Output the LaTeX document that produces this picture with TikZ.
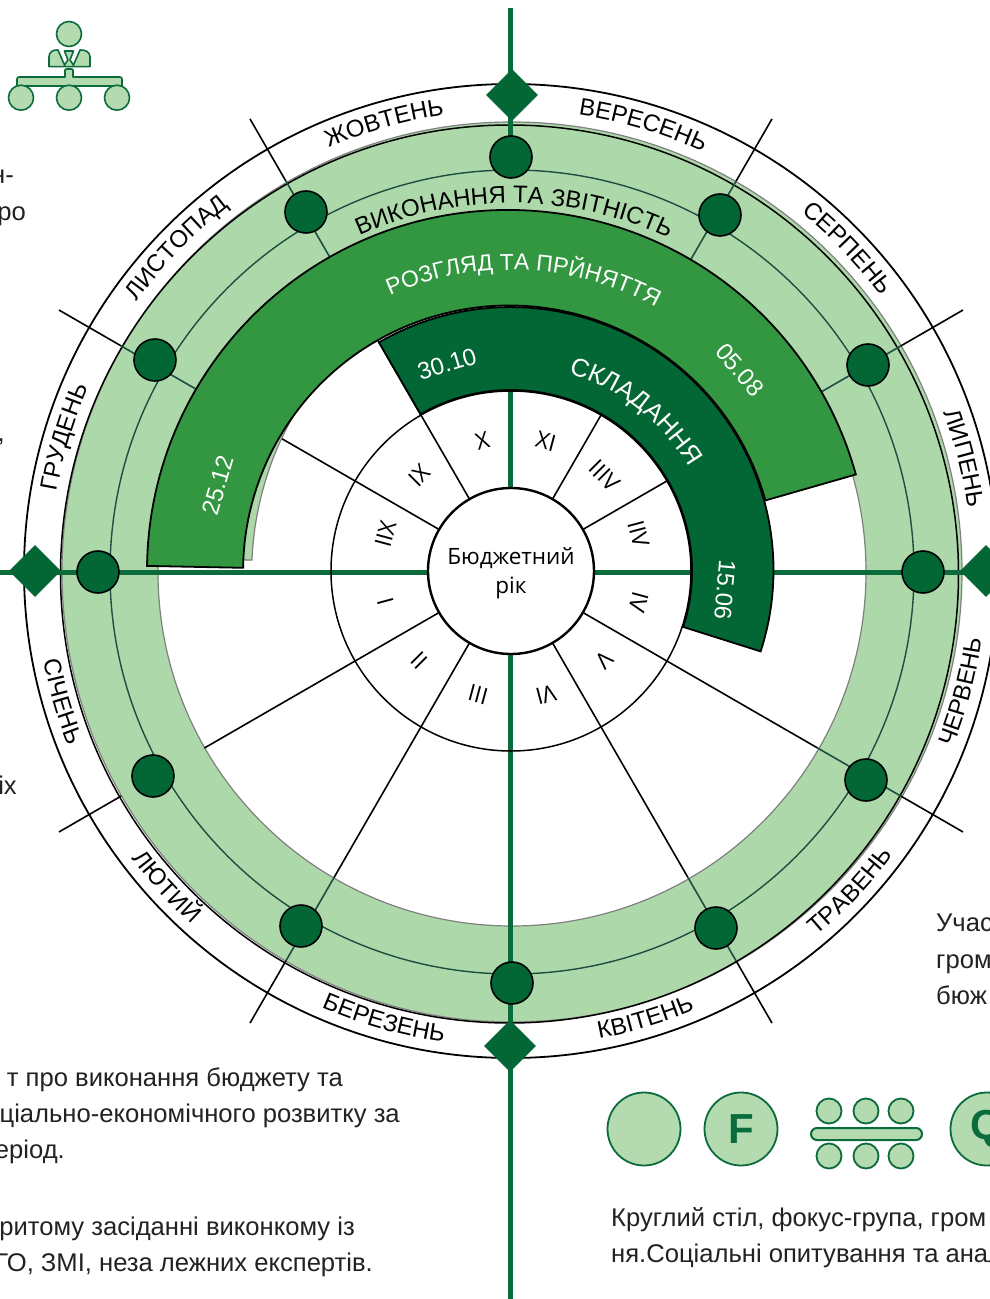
\documentclass[tikz,border=0pt]{standalone}
\usepackage{fontspec}
\setmainfont{Liberation Sans}
\newfontfamily\wheelfont{Open Sans}
\usetikzlibrary{decorations.text,shapes.geometric}
\definecolor{cdark}{HTML}{036635}
\definecolor{cmid}{HTML}{329740}
\definecolor{clight}{HTML}{ADD8A9}
\definecolor{cicon}{HTML}{B4DBAF}
\definecolor{caxis}{HTML}{0A6B3C}
\definecolor{cteal}{HTML}{1C4F40}
\definecolor{cbody}{HTML}{222222}
\newcommand\mfont{\fontsize{24}{24}\selectfont}
\newcommand\rfont{\color{black}\fontsize{24}{24}\selectfont}
\newcommand\wfont{\color{white}\fontsize{23}{23}\selectfont}
\newcommand\wbfont{\color{white}\fontsize{25.5}{25.5}\selectfont}
\newcommand\arctext[5]{\path[decorate,decoration={text along path,text={|#4|#5},text align=center}] (#1:#3) arc[start angle=#1,end angle=#2,radius=#3];}
\tikzset{
  axisline/.style={draw=caxis,line width=5pt},
  spokeline/.style={draw=black,line width=1.6pt},
  spokering/.style={draw=cteal,line width=1.6pt},
  ringdot/.style={circle,draw=black,fill=cdark,line width=1.6pt,minimum size=42pt,inner sep=0pt},
  marker/.style={diamond,draw=cdark,fill=cdark,line width=.8pt,minimum width=51pt,minimum height=51pt,inner sep=0pt,aspect=1},
  sector/.style={draw=black,line width=1.8pt,line join=miter},
  roman/.style={font=\wheelfont\fontsize{23}{23}\selectfont,inner sep=0pt},
  dateline/.style={text=white,font=\fontsize{24}{24}\selectfont,inner sep=0pt},
  bodytext/.style={text=cbody,font=\fontsize{25.6}{25.6}\selectfont,inner sep=0pt},
  icon/.style={draw=caxis,fill=cicon,line width=1.6pt},
  bigdisc/.style={circle,draw=caxis,fill=cicon,line width=1.8pt,minimum size=73pt,inner sep=0pt,text=caxis,font=\bfseries\fontsize{42}{42}\selectfont},
  smalldisc/.style={circle,draw=caxis,fill=cicon,line width=1.8pt,minimum size=25pt,inner sep=0pt},
}
\begin{document}
\begin{tikzpicture}[x=1pt,y=1pt]
\clip (-511,-728) rectangle (479,571);
\fill[white] (-511,-728) rectangle (479,571);
% month band
\draw[black,line width=1.8pt,fill=white] (0,0) circle[radius=487];
% light ring
\fill[clight,even odd rule] (1,-1) circle[radius=450] (1,-1) circle[radius=354];
\draw[gray,line width=1.2pt] (1,-1) circle[radius=450];
\draw[gray,line width=1.2pt] (1,-1) circle[radius=354];
\draw[black,line width=1.5pt] (-1.5,-3) circle[radius=449];
\draw[cteal,line width=1.4pt] (1,-1) circle[radius=402];
% spokes
\foreach \a in {30,60,120,150,210,240,300,330}{
  \coordinate (sa\a) at (\a:83);
  \coordinate (sb\a) at (\a:354);
  \coordinate (sc\a) at (\a:450);
  \coordinate (sd\a) at (\a:522);
  \draw[spokeline] (sa\a) -- (sb\a);
  \draw[spokeline] (sc\a) -- (sd\a);
}
\foreach \a in {30,60,120,150,240,300,330}{
  \draw[spokering] (sb\a) -- (sc\a);
}
% axes
\coordinate (axT) at (0,563);
\coordinate (axU) at (0,413);
\coordinate (axI) at (0,180);
\coordinate (axB) at (0,-728);
\coordinate (axL) at (-511,-1);
\coordinate (axR) at (479,-1);
\draw[axisline] (axT) -- (axU);
\draw[axisline] (axI) -- (axB);
\draw[axisline] (axL) -- (axR);
% sliver of light colour
\begin{scope}[shift={(-511,571)},y=-1pt]
\fill[clight] (200,560) -- (252,560) .. controls (254,505) and (272,450) .. (297,410) -- (260,390) -- cycle;
\draw[gray,line width=1.2pt] (243,560) -- (252,560) .. controls (254,505) and (272,450) .. (297,410);
\end{scope}
% sectors
\draw[sector,fill=cmid] (179.2:364) arc[start angle=179.2,end angle=15.5,radius=361] -- (15.5:264) arc[start angle=15.5,end angle=179.2,radius=266] -- cycle;
\draw[sector,fill=cdark] (120:264) arc[start angle=120,end angle=-18,radius=263] -- (-18:181) arc[start angle=-18,end angle=120,radius=181] -- cycle;
% inner circles
\draw[black,line width=1.5pt] (0,0) circle[radius=180];
\node[circle,draw=black,fill=white,line width=2.4pt,minimum size=166pt,inner sep=0pt] (core) at (0,0) {};
\node[align=center,inner sep=0pt,font=\wheelfont\fontsize{22.5}{29}\selectfont] (coretext) at (0,-2) {Бюджетний\\рік};
% month labels
\arctext{193.3}{133.3}{461}{\mfont}{ГРУДЕНЬ}
\arctext{166}{106}{461}{\mfont}{ЛИСТОПАД}
\arctext{135.8}{75.8}{461}{\mfont}{ЖОВТЕНЬ}
\arctext{103.5}{43.5}{461}{\mfont}{ВЕРЕСЕНЬ}
\arctext{73.8}{13.8}{461}{\mfont}{СЕРПЕНЬ}
\arctext{44}{-16}{461}{\mfont}{ЛИПЕНЬ}
\arctext{-45}{15}{476}{\mfont}{ЧЕРВЕНЬ}
\arctext{-73.3}{-13.3}{476}{\mfont}{ТРАВЕНЬ}
\arctext{-103.3}{-43.3}{476}{\mfont}{КВІТЕНЬ}
\arctext{-135.8}{-75.8}{476}{\mfont}{БЕРЕЗЕНЬ}
\arctext{-167.5}{-107.5}{476}{\mfont}{ЛЮТИЙ}
\arctext{-193.8}{-133.8}{476}{\mfont}{СІЧЕНЬ}
% phase labels
\arctext{129.5}{49.5}{368}{\rfont}{ВИКОНАННЯ ТА ЗВІТНІСТЬ}
\arctext{127.5}{47.5}{301}{\wfont}{РОЗГЛЯД ТА ПРЙНЯТТЯ}
\arctext{102}{2}{206}{\wbfont}{СКЛАДАННЯ}
\node[dateline,rotate=17] (d1) at (-64,207) {30.10};
\node[dateline,rotate=-49] (d2) at (229,201) {05.08};
\node[dateline,rotate=-95] (d3) at (214,-19) {15.06};
\node[dateline,rotate=73.6] (d4) at (-293,86) {25.12};
% roman numerals
\begin{scope}[shift={(1,3)}]
\foreach \a/\b/\t in {103/105/X,75/75/XI,45/45/IIIV,15/15/IIV,-15/-15/IV,-45/-45/V,-75/-75/VI,-105/-105/III,-135/-135/II,-165/-165/I,165/165/IIX,135/135/IX}{
  \pgfmathsetmacro\rr{\b-90}
  \node[roman,rotate=\rr] (rn\a) at (\a:131) {\t};
}
\end{scope}
% ring dots, pixel positions
\begin{scope}[shift={(-511,571)},y=-1pt]
\foreach \n/\p/\q in {a/511/157,b/720/215,c/868/365,d/923/572,e/866/780,f/716/928,g/512/983,h/301/926,i/153/776,j/98/572,k/155/360,l/306/212}{
  \node[ringdot] (dot\n) at (\p,\q) {};
}
\node[marker] (mT) at (512,95) {};
\node[marker] (mB) at (510,1046) {};
\node[marker] (mL) at (35,571) {};
\node[marker] (mR) at (986,571) {};
% person icon
\draw[icon] (69,34) circle[radius=12.5];
\draw[icon,line join=round] (49,66.7) -- (49,57) .. controls (49,52) and (53,49.5) .. (58,50) -- (64.5,65) -- (68,60) -- (64.5,51) -- (73.5,51) -- (70,60) -- (73.5,65) -- (80,50) .. controls (85,49.5) and (90,52) .. (90,57) -- (90,66.7) -- cycle;
\draw[icon,line join=round] (17,86) -- (17,79) .. controls (17,78) and (18,77) .. (19,77) -- (65,77) -- (65,70) .. controls (65,69.5) and (66,69) .. (67,69) -- (71,69) .. controls (72,69) and (73,69.5) .. (73,70) -- (73,77) -- (120,77) .. controls (121,77) and (122,78) .. (122,79) -- (122,86) -- cycle;
\foreach \x in {21,69,117}{\draw[icon] (\x,97.7) circle[radius=12.5];}
% lower icons
\node[bigdisc] (ic1) at (644,1129) {};
\node[bigdisc] (ic2) at (741,1129) {F};
\node[bigdisc] (ic3) at (987,1129) {Q};
\foreach \n/\x in {a/829,b/866,c/901}{
  \node[smalldisc] (ut\n) at (\x,1111) {};
  \node[smalldisc] (ub\n) at (\x,1156) {};
}
\draw[icon,rounded corners=6pt,line width=2pt] (811,1128) rectangle (922,1140);
% body text
\node[bodytext,anchor=base east] (t1) at (14,184) {н-};
\node[bodytext,anchor=base east] (t2) at (26,221) {ро};
\node[bodytext,anchor=base east] (t3) at (5,441) {,};
\node[bodytext,anchor=base east] (t4) at (17,794) {іх};
\node[bodytext,anchor=base east] (t5) at (343,1086) {т про виконання бюджету та};
\node[bodytext,anchor=base east] (t6) at (400,1122) {ціально-економічного розвитку за};
\node[bodytext,anchor=base east] (t7) at (65,1158) {еріод.};
\node[bodytext,anchor=base east] (t8) at (355,1235) {ритому засіданні виконкому із};
\node[bodytext,anchor=base east] (t9) at (373,1271) {ГО, ЗМІ, неза лежних експертів.};
\node[bodytext,anchor=base west] (t10) at (936,931) {Учас};
\node[bodytext,anchor=base west] (t11) at (936,968) {гром};
\node[bodytext,anchor=base west] (t12) at (936,1004) {бюж};
\node[bodytext,anchor=base west] (t13) at (611,1226) {Круглий стіл, фокус-група, гром};
\node[bodytext,anchor=base west] (t14) at (611,1262) {ня.Соціальні опитування та анал};
\end{scope}
\end{tikzpicture}
\end{document}
